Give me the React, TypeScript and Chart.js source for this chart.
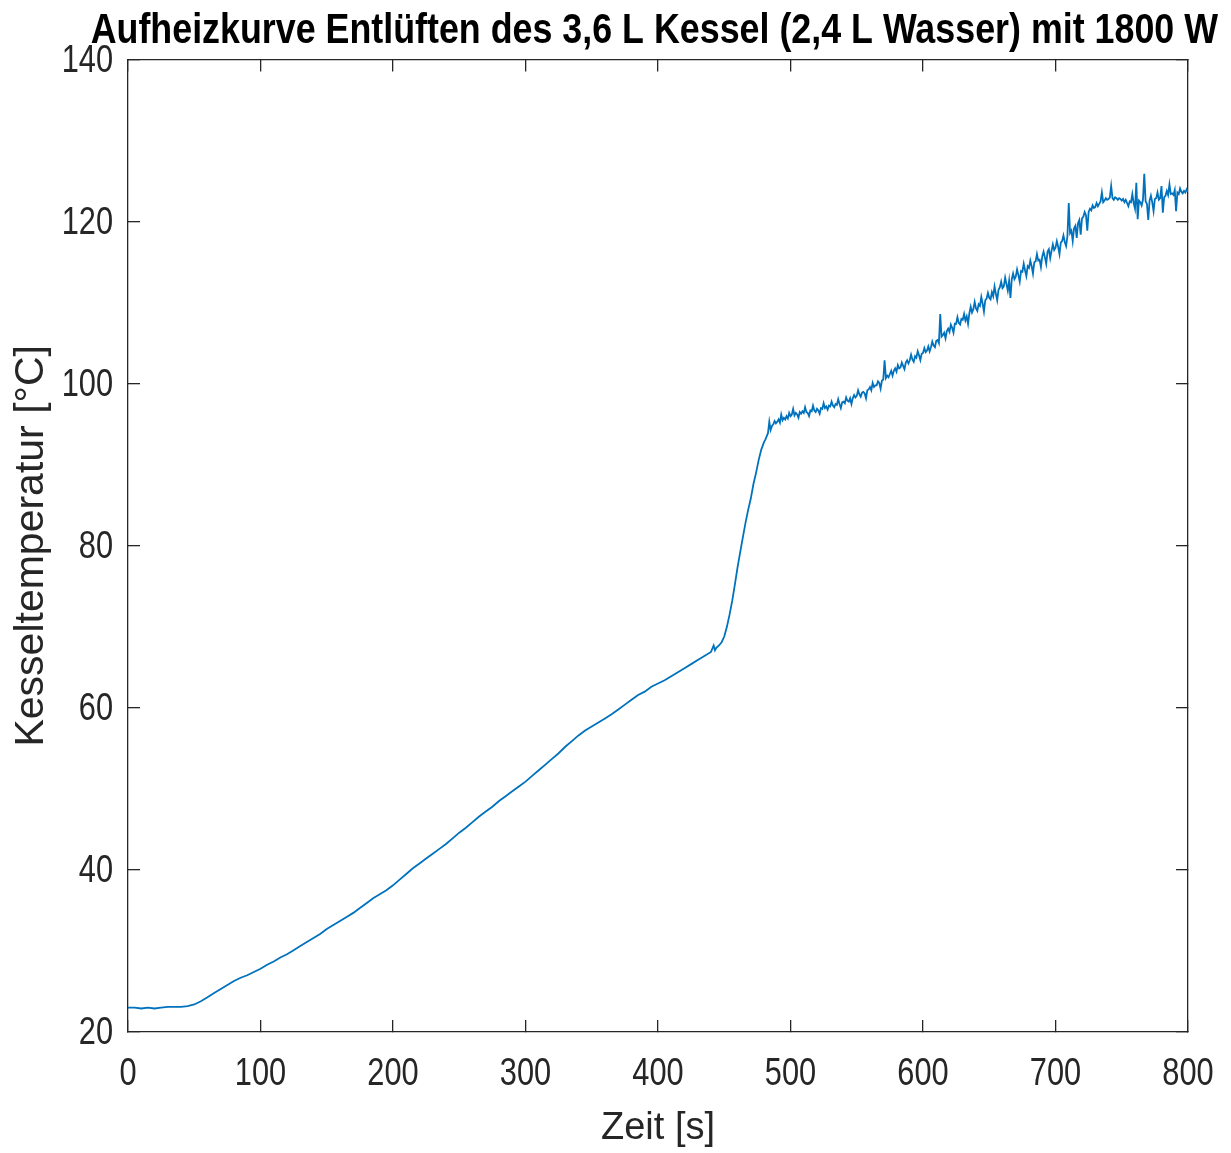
import { useEffect, useRef } from "react";
import { Chart, registerables } from "chart.js";

Chart.register(...registerables);

const chartTitle = "Aufheizkurve Entlüften des 3,6 L Kessel (2,4 L Wasser) mit 1800 W";
const xAxisLabel = "Zeit [s]";
const yAxisLabel = "Kesseltemperatur [°C]";
const xTicks = [0, 100, 200, 300, 400, 500, 600, 700, 800];
const yTicks = [20, 40, 60, 80, 100, 120, 140];

// 0 .. 440 s
const baseTimes = [
  0, 5, 10, 15, 20, 25, 30, 35, 40, 45,
  50, 55, 60, 65, 70, 75, 80, 85, 90, 95,
  100, 105, 110, 115, 120, 125, 130, 135, 140, 145,
  150, 155, 160, 165, 170, 175, 180, 185, 190, 195,
  200, 205, 210, 215, 220, 225, 230, 235, 240, 245,
  250, 255, 260, 265, 270, 275, 280, 285, 290, 295,
  300, 305, 310, 315, 320, 325, 330, 335, 340, 345,
  350, 355, 360, 365, 370, 375, 380, 385, 390, 395,
  400, 405, 410, 415, 420, 425, 430, 435, 440,
];
const baseTemps = [
  23.0, 23.0, 22.9, 23.0, 22.9, 23.0, 23.1, 23.1, 23.1, 23.2,
  23.4, 23.8, 24.3, 24.8, 25.3, 25.8, 26.3, 26.7, 27.0, 27.4,
  27.8, 28.3, 28.7, 29.2, 29.6, 30.1, 30.6, 31.1, 31.6, 32.1,
  32.7, 33.2, 33.7, 34.2, 34.7, 35.3, 35.9, 36.5, 37.0, 37.5,
  38.1, 38.8, 39.5, 40.2, 40.8, 41.4, 42.0, 42.6, 43.2, 43.9,
  44.6, 45.2, 45.9, 46.6, 47.2, 47.8, 48.5, 49.1, 49.7, 50.3,
  50.9, 51.6, 52.3, 53.0, 53.7, 54.4, 55.2, 55.9, 56.6, 57.2,
  57.7, 58.2, 58.7, 59.2, 59.8, 60.4, 61.0, 61.6, 62.0, 62.6,
  63.0, 63.4, 63.9, 64.4, 64.9, 65.4, 65.9, 66.4, 66.9,
];

// steep rise 442 .. 480 s
const rampTimes = [442, 443, 444, 446, 448, 450, 452, 454, 456, 458, 460, 462, 464, 466, 468, 470, 472, 474, 476, 478, 480];
const rampTemps = [67.7, 67.1, 67.4, 67.7, 68.1, 68.8, 70.0, 71.5, 73.2, 75.2, 77.3, 79.2, 81.0, 82.8, 84.4, 85.8, 87.6, 89.0, 90.6, 91.9, 92.8];

// venting phase 481 .. 800 s (noisy)
const ventTimes = [
  481, 482, 483, 484, 485, 486, 487, 488, 489, 490,
  491, 492, 493, 494, 495, 496, 497, 498, 499, 500,
  501, 502, 503, 504, 505, 506, 507, 508, 509, 510,
  511, 512, 513, 514, 515, 516, 517, 518, 519, 520,
  521, 522, 523, 524, 525, 526, 527, 528, 529, 530,
  531, 532, 533, 534, 535, 536, 537, 538, 539, 540,
  541, 542, 543, 544, 545, 546, 547, 548, 549, 550,
  551, 552, 553, 554, 555, 556, 557, 558, 559, 560,
  561, 562, 563, 564, 565, 566, 567, 568, 569, 570,
  571, 572, 573, 574, 575, 576, 577, 578, 579, 580,
  581, 582, 583, 584, 585, 586, 587, 588, 589, 590,
  591, 592, 593, 594, 595, 596, 597, 598, 599, 600,
  601, 602, 603, 604, 605, 606, 607, 608, 609, 610,
  611, 612, 613, 614, 615, 616, 617, 618, 619, 620,
  621, 622, 623, 624, 625, 626, 627, 628, 629, 630,
  631, 632, 633, 634, 635, 636, 637, 638, 639, 640,
  641, 642, 643, 644, 645, 646, 647, 648, 649, 650,
  651, 652, 653, 654, 655, 656, 657, 658, 659, 660,
  661, 662, 663, 664, 665, 666, 667, 668, 669, 670,
  671, 672, 673, 674, 675, 676, 677, 678, 679, 680,
  681, 682, 683, 684, 685, 686, 687, 688, 689, 690,
  691, 692, 693, 694, 695, 696, 697, 698, 699, 700,
  701, 702, 703, 704, 705, 706, 707, 708, 709, 710,
  711, 712, 713, 714, 715, 716, 717, 718, 719, 720,
  721, 722, 723, 724, 725, 726, 727, 728, 729, 730,
  731, 732, 733, 734, 735, 736, 737, 738, 739, 740,
  741, 742, 743, 744, 745, 746, 747, 748, 749, 750,
  751, 752, 753, 754, 755, 756, 757, 758, 759, 760,
  761, 762, 763, 764, 765, 766, 767, 768, 769, 770,
  771, 772, 773, 774, 775, 776, 777, 778, 779, 780,
  781, 782, 783, 784, 785, 786, 787, 788, 789, 790,
  791, 792, 793, 794, 795, 796, 797, 798, 799, 800,
];
const ventTemps = [
  93.1, 93.5, 93.9, 95.3, 94.3, 94.8, 95.0, 95.4, 95.1, 95.3,
  95.6, 95.2, 96.2, 95.5, 95.8, 95.6, 96.0, 95.7, 96.4, 96.0,
  96.2, 96.9, 96.1, 96.4, 96.2, 95.8, 96.5, 96.3, 96.6, 96.4,
  97.1, 96.5, 96.4, 96.0, 96.7, 96.6, 97.3, 96.7, 96.5, 96.9,
  96.7, 96.3, 97.0, 96.9, 97.6, 97.0, 97.2, 96.8, 97.3, 97.2,
  97.8, 97.3, 97.1, 97.5, 97.4, 98.1, 97.5, 97.0, 97.7, 97.8,
  97.6, 98.3, 97.9, 97.8, 98.2, 97.5, 98.2, 98.6, 98.3, 98.5,
  99.2, 98.7, 98.4, 98.9, 99.0, 98.8, 98.2, 99.2, 99.3, 99.6,
  99.2, 100.1, 99.6, 99.8, 99.8, 100.3, 100.1, 99.4, 100.4, 100.5,
  102.9, 100.7, 101.0, 100.8, 101.2, 101.6, 101.0, 101.6, 101.9, 101.5,
  102.3, 101.9, 102.0, 102.6, 102.2, 101.8, 102.6, 102.9, 102.5, 102.9,
  103.6, 103.0, 102.7, 103.4, 103.2, 104.0, 103.5, 102.9, 103.7, 103.8,
  104.4, 103.9, 104.1, 104.6, 104.0, 104.5, 105.2, 104.7, 104.5, 105.3,
  105.4, 105.0, 108.6, 105.8, 106.0, 106.3, 105.6, 106.5, 106.8, 106.4,
  107.3, 106.9, 106.3, 107.4, 107.4, 108.2, 107.5, 107.3, 108.0, 107.9,
  108.6, 107.8, 108.3, 107.4, 108.7, 109.5, 108.8, 109.2, 110.1, 109.3,
  109.0, 109.8, 109.6, 110.7, 109.9, 108.9, 110.3, 110.5, 111.2, 110.6,
  110.4, 111.3, 110.8, 112.0, 111.1, 110.3, 111.6, 111.9, 112.6, 111.8,
  112.0, 113.1, 112.3, 111.5, 112.7, 110.6, 112.9, 113.6, 112.9, 113.2,
  114.1, 113.4, 112.6, 113.9, 113.8, 114.8, 114.0, 113.3, 114.5, 114.3,
  115.2, 114.5, 113.6, 115.0, 115.1, 116.0, 115.2, 115.3, 114.4, 115.7,
  116.3, 115.6, 114.8, 116.3, 116.6, 115.5, 116.4, 117.2, 116.5, 116.8,
  117.6, 116.9, 116.0, 117.4, 117.6, 118.3, 117.5, 117.0, 118.2, 122.3,
  118.6, 118.9, 117.6, 119.2, 119.5, 118.0, 119.8, 120.2, 118.4, 120.4,
  120.6, 121.2, 120.8, 118.9, 121.2, 121.6, 121.4, 122.0, 121.7, 121.8,
  122.3, 121.9, 122.2, 122.5, 123.6, 122.4, 122.6, 122.9, 122.7, 122.8,
  123.0, 124.4, 122.9, 122.7, 123.0, 122.9, 122.7, 122.9, 122.8, 122.6,
  122.8, 122.4, 122.7, 122.3, 121.9, 122.5, 122.4, 123.4, 122.3, 121.6,
  124.8, 120.3, 122.6, 122.4, 122.0, 122.7, 125.9, 122.5, 122.2, 120.2,
  122.6, 123.2, 122.4, 121.3, 122.8, 122.9, 123.6, 122.7, 122.9, 124.4,
  121.1, 123.0, 123.2, 123.8, 123.3, 124.6, 123.4, 123.5, 123.3, 123.9,
  121.3, 123.6, 123.4, 124.1, 123.7, 123.5, 123.8, 123.6, 124.0, 123.7,
];

// Horizontal text in the reference is set in a condensed face; emulate by
// limiting fillText's maxWidth (rotated text is left untouched).
const condensePlugin = {
  id: "condenseText",
  beforeDraw(chart: any) {
    const ctx: any = chart.ctx;
    if (ctx.__condensePatched) return;
    ctx.__condensePatched = true;
    const orig = ctx.fillText;
    ctx.fillText = function (text: string, x: number, y: number, maxWidth?: number) {
      const m = this.getTransform();
      const rotated = Math.abs(m.b) > 1e-6 || Math.abs(m.c) > 1e-6;
      let factor = 1;
      if (!rotated) {
        if (/bold/.test(this.font)) factor = 0.833;
        else if (text !== xAxisLabel) factor = 0.81;
      }
      if (factor === 1) {
        return maxWidth === undefined ? orig.call(this, text, x, y) : orig.call(this, text, x, y, maxWidth);
      }
      const w = this.measureText(text).width * factor;
      const mw = maxWidth === undefined ? w : Math.min(maxWidth, w);
      return orig.call(this, text, x, y, mw);
    };
  },
};

export default function App() {
  const ref = useRef<HTMLCanvasElement>(null);

  useEffect(() => {
    const canvas = ref.current;
    if (!canvas) return;
    const times = [...baseTimes, ...rampTimes, ...ventTimes];
    const temps = [...baseTemps, ...rampTemps, ...ventTemps];
    const points = times.map((t, i) => ({ x: t, y: temps[i] }));

    const axisColor = "#262626";
    const regular = "'Liberation Sans', Arial, sans-serif";
    const grid = {
      display: true,
      drawOnChartArea: false,
      drawTicks: true,
      tickLength: -12,
      color: axisColor,
      lineWidth: 1.3,
    };
    const border = { display: true, color: axisColor, width: 1.3 };

    const chart = new Chart(canvas, {
      type: "line",
      data: {
        datasets: [
          {
            data: points,
            xAxisID: "x",
            yAxisID: "y",
            borderColor: "#0072BD",
            borderWidth: 1.8,
            pointRadius: 0,
            fill: false,
            tension: 0,
          },
        ],
      },
      plugins: [condensePlugin],
      options: {
        animation: false,
        responsive: false,
        devicePixelRatio: 1,
        layout: { padding: { left: 0, right: 13, top: 0, bottom: 0 } },
        plugins: {
          legend: { display: false },
          tooltip: { enabled: false },
          title: {
            display: true,
            text: chartTitle,
            align: "end",
            color: "#000000",
            font: { family: regular, size: 43, weight: "bold", lineHeight: 1.2 },
            padding: { top: 5, bottom: 3 },
          },
        },
        scales: {
          x: {
            type: "linear",
            axis: "x",
            position: "bottom",
            min: 0,
            max: 800,
            afterBuildTicks: (s: any) => {
              s.ticks = xTicks.map((v) => ({ value: v }));
            },
            afterFit: (s: any) => {
              s.height = 121;
              s.paddingLeft = 0;
              s.paddingRight = 0;
            },
            ticks: {
              color: axisColor,
              font: { family: regular, size: 38 },
              padding: 32,
              maxRotation: 0,
              autoSkip: false,
            },
            grid,
            border,
            title: {
              display: true,
              text: xAxisLabel,
              color: axisColor,
              font: { family: regular, size: 38 },
              padding: { top: 0, bottom: 2 },
            },
          },
          xTop: {
            type: "linear",
            axis: "x",
            position: "top",
            min: 0,
            max: 800,
            afterBuildTicks: (s: any) => {
              s.ticks = xTicks.map((v) => ({ value: v }));
            },
            afterFit: (s: any) => {
              s.height = 0;
              s.paddingLeft = 0;
              s.paddingRight = 0;
            },
            ticks: { display: false },
            grid,
            border,
          },
          y: {
            type: "linear",
            axis: "y",
            position: "left",
            min: 20,
            max: 140,
            afterBuildTicks: (s: any) => {
              s.ticks = yTicks.map((v) => ({ value: v }));
            },
            afterFit: (s: any) => {
              s.width = 128;
            },
            ticks: {
              color: axisColor,
              font: { family: regular, size: 38 },
              padding: 27,
              labelOffset: 2,
              autoSkip: false,
            },
            grid,
            border,
            title: {
              display: true,
              text: yAxisLabel,
              color: axisColor,
              font: { family: regular, size: 41 },
              padding: { top: 7, bottom: 0 },
            },
          },
          yRight: {
            type: "linear",
            axis: "y",
            position: "right",
            min: 20,
            max: 140,
            afterBuildTicks: (s: any) => {
              s.ticks = yTicks.map((v) => ({ value: v }));
            },
            afterFit: (s: any) => {
              s.width = 30;
            },
            ticks: { display: false },
            grid,
            border,
          },
        },
      } as any,
    });

    return () => chart.destroy();
  }, []);

  return (
    <div style={{ position: "absolute", left: 0, top: 0, width: 1231, height: 1153, background: "#ffffff" }}>
      <canvas
        ref={ref}
        width={1231}
        height={1153}
        style={{ display: "block", width: "1231px", height: "1153px" }}
      />
    </div>
  );
}
